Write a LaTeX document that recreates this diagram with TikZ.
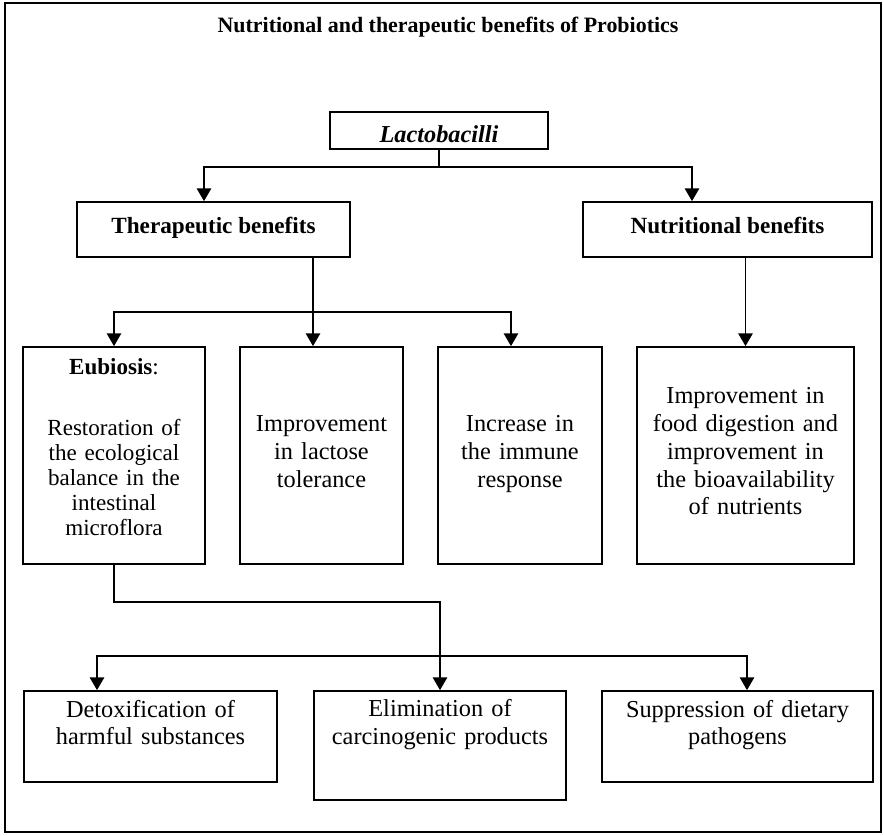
\documentclass[tikz,border=0pt]{standalone}
\usepackage{fontspec}
\setmainfont{Liberation Serif}
\usetikzlibrary{positioning, arrows.meta, calc}

\newcommand\bodysize{\fontsize{17.3}{19.7}\selectfont}
\newcommand\smallbodysize{\fontsize{16.4}{17.7}\selectfont}
\newcommand\headsize{\fontsize{16.5}{19}\selectfont}
\newcommand\titlesize{\fontsize{15.6}{18}\selectfont}

\tikzset{
	box/.style={draw, line width=1.2pt, inner sep=0pt, align=center, font=\bodysize},
	headbox/.style={box, minimum height=1.375cm, text height=12pt, text depth=6pt, font=\headsize\bfseries},
	link/.style={line width=1.2pt},
	arr/.style={line width=1.2pt, -{Triangle[width=0.36cm, length=0.32cm]}},
}

\begin{document}
\begin{tikzpicture}[x=0.025cm, y=-0.025cm]
	\useasboundingbox (0,0) rectangle (884,836);
	\draw[line width=1pt] (5,3) rectangle (881,832);
	\node[font=\titlesize\bfseries] (title) at (448,27) {Nutritional and therapeutic benefits of Probiotics};
	% top level
	\node[box, minimum width=5.45cm, minimum height=0.925cm, text height=0.575cm, text depth=0pt, font=\bodysize\bfseries\itshape] (lacto) at (439,130.5) {Lactobacilli};
	\node[headbox, minimum width=6.825cm] (ther) at (213.5,229.5) {Therapeutic benefits};
	\node[headbox, minimum width=7.225cm] (nutr) at (727.5,229.5) {Nutritional benefits};
	% benefits
	\node[box, minimum width=4.55cm, text width=4.3cm, text height=0.7cm, text depth=4.725cm, font=\smallbodysize] (eub) at (114,455.5)
		{\textbf{Eubiosis}:\\[0.89cm]Restoration of\\the ecological\\balance in the\\intestinal\\microflora};
	\node[box, minimum width=4.075cm, text width=3.9cm, text height=2.12cm, text depth=3.305cm] (lact) at (321.5,455.5)
		{Improvement\\in lactose\\tolerance};
	\node[box, minimum width=4.1cm, text width=3.9cm, text height=2.12cm, text depth=3.305cm] (immu) at (520,455.5)
		{Increase in\\the immune\\response};
	\node[box, minimum width=5.425cm, text width=5.2cm, text height=1.425cm, text depth=4cm] (food) at (745.5,455.5)
		{Improvement in\\food digestion and\\improvement in\\the bioavailability\\of nutrients};
	% effects of eubiosis
	\node[box, minimum width=6.325cm, text width=6cm, text height=0.65cm, text depth=1.625cm] (detox) at (150.5,736.5)
		{Detoxification of\\harmful substances};
	\node[box, minimum width=6.3cm, text width=6cm, text height=0.65cm, text depth=2.075cm] (elim) at (440,745.5)
		{Elimination of\\carcinogenic products};
	\node[box, minimum width=6.775cm, text width=6.5cm, text height=0.65cm, text depth=1.625cm] (supp) at (737.5,736.5)
		{Suppression of dietary\\pathogens};
	% connectors
	\draw[link] (lacto.south) -- ++(0,17) coordinate (lsplit);
	\draw[arr] (lsplit) -| ($(ther.north)+(-9.5,0)$);
	\draw[arr] (lsplit) -| ($(nutr.north)+(-35.5,0)$);
	\draw[link] ($(ther.south)+(99.5,0)$) -- ++(0,54) coordinate (tsplit);
	\draw[arr] (tsplit) -- (tsplit |- lact.north);
	\draw[arr] (tsplit) -| (eub.north);
	\draw[arr] (tsplit) -| ($(immu.north)+(-9,0)$);
	\draw[arr] (food.north |- nutr.south) -- (food.north);
	\draw[arr] (eub.south) -- ++(0,37) -| (elim.north);
	\coordinate (bsplit) at (elim.north |- 0,656);
	\draw[arr] (bsplit) -| ($(detox.north)+(-53.5,0)$);
	\draw[arr] (bsplit) -| ($(supp.north)+(9.5,0)$);
\end{tikzpicture}
\end{document}
